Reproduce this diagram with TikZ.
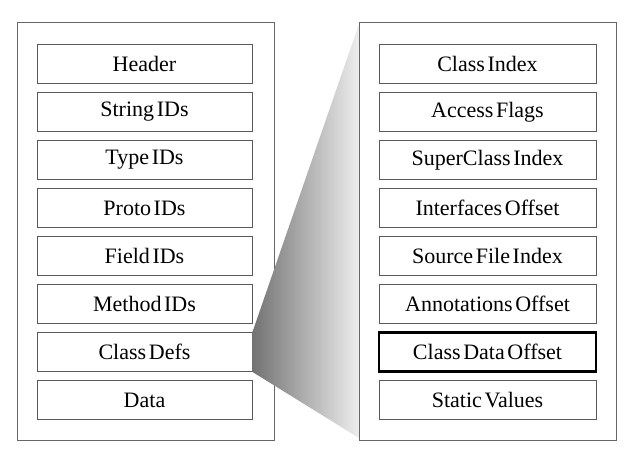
\documentclass[tikz,border=0pt]{standalone}
\usepackage{fontspec}
\setmainfont{Liberation Serif}
\newcommand{\fieldfont}{\fontsize{22}{26}\selectfont\spaceskip=0.12em plus 0.05em minus 0.02em\relax}
\begin{document}
\begin{tikzpicture}[x=1pt,y=-1pt,
  outerbox/.style={draw=black!60, line width=1pt, fill=white, inner sep=0pt, minimum width=257pt, minimum height=417pt},
  field/.style={draw=black!65, line width=0.9pt, fill=white, inner sep=0pt, minimum height=39pt, font=\fieldfont},
  lfield/.style={field, minimum width=215pt},
  rfield/.style={field, minimum width=217pt},
  hl/.style={draw=black, line width=2.4pt}]
\useasboundingbox (0,0) rectangle (629,457);
\node[outerbox] (lo) at (145.5,231.5) {};
\node[lfield] (l1) at (144.5,64) {Header};
\node[lfield] (l2) at (144.5,112) {String IDs};
\node[lfield] (l3) at (144.5,160) {Type IDs};
\node[lfield] (l4) at (144.5,208) {Proto IDs};
\node[lfield] (l5) at (144.5,256) {Field IDs};
\node[lfield] (l6) at (144.5,304) {Method IDs};
\node[lfield] (l7) at (144.5,352) {Class Defs};
\node[lfield] (l8) at (144.5,400) {Data};
\coordinate (rtop) at (359,24);
\coordinate (rbot) at (359,438);
\shade[left color=black!55, right color=black!7] (l7.north east) -- (rtop) -- (rbot) -- (l7.south east) -- cycle;
\node[outerbox] (ro) at (487.5,231.5) {};
\node[rfield] (r1) at (487.5,64) {Class Index};
\node[rfield] (r2) at (487.5,112) {Access Flags};
\node[rfield] (r3) at (487.5,160) {SuperClass Index};
\node[rfield] (r4) at (487.5,208) {Interfaces Offset};
\node[rfield] (r5) at (487.5,256) {Source File Index};
\node[rfield] (r6) at (487.5,304) {Annotations Offset};
\node[rfield,hl] (r7) at (487.5,352) {Class Data Offset};
\node[rfield] (r8) at (487.5,400) {Static Values};
\end{tikzpicture}
\end{document}
